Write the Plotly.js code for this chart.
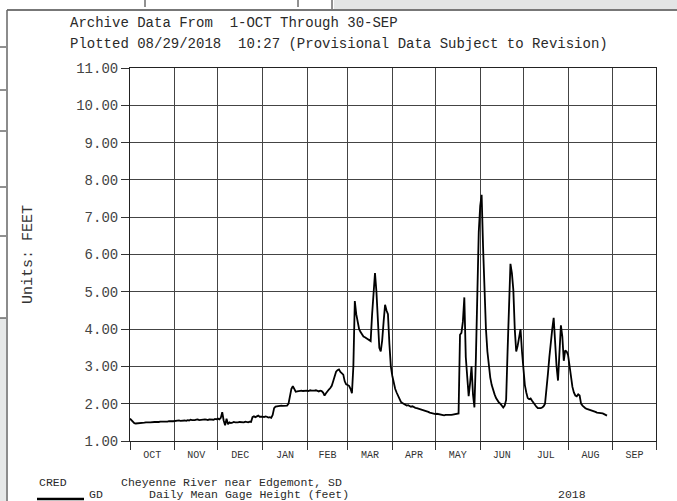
<!DOCTYPE html>
<html>
<head>
<meta charset="utf-8">
<script src="https://cdn.plot.ly/plotly-3.0.1.min.js"></script>
<style>html,body{margin:0;padding:0;background:#fff;}#chart{width:677px;height:501px;}</style>
</head>
<body>
<div id="chart"></div>
<script>
// ---- Data (daily mean gage height, feet), water year Oct 2017 - Sep 2018 ----
const monthStarts = ['2017-10-01','2017-11-01','2017-12-01','2018-01-01','2018-02-01','2018-03-01',
  '2018-04-01','2018-05-01','2018-06-01','2018-07-01','2018-08-01','2018-09-01','2018-10-01'];
const monthLabels = ['OCT','NOV','DEC','JAN','FEB','MAR','APR','MAY','JUN','JUL','AUG','SEP'];

const octVals = [1.60,1.55,1.50,1.48,1.47,1.47,1.48,1.48,1.49,1.48,1.49,1.50,1.49,1.50,1.50,1.51,
  1.50,1.51,1.51,1.50,1.51,1.52,1.51,1.52,1.52,1.51,1.52,1.53,1.52,1.53,1.53];
const novVals = [1.54,1.53,1.54,1.55,1.54,1.55,1.56,1.55,1.54,1.56,1.55,1.57,1.56,1.55,1.56,1.57,
  1.58,1.56,1.57,1.56,1.57,1.58,1.57,1.56,1.58,1.57,1.58,1.57,1.59,1.58];
const decVals = [1.60,1.58,1.62,1.77,1.55,1.42,1.60,1.45,1.50,1.48,1.49,1.51,1.50,1.49,1.50,1.51,
  1.50,1.49,1.50,1.52,1.51,1.50,1.52,1.51,1.64,1.66,1.64,1.65,1.68,1.65,1.66];
const janVals = [1.65,1.64,1.66,1.65,1.63,1.64,1.62,1.70,1.88,1.92,1.93,1.94,1.93,1.95,1.94,1.95,
  1.96,1.95,2.00,2.20,2.40,2.47,2.38,2.32,2.33,2.34,2.33,2.35,2.34,2.35,2.34];
const febVals = [2.35,2.34,2.36,2.35,2.34,2.35,2.36,2.35,2.33,2.35,2.34,2.30,2.22,2.28,2.35,2.38,
  2.42,2.48,2.60,2.75,2.86,2.90,2.92,2.85,2.80,2.78,2.60,2.52];
const marVals = [2.50,2.48,2.40,2.28,3.00,4.75,4.40,4.15,4.00,3.92,3.85,3.80,3.78,3.75,3.72,3.70,
  3.68,4.40,5.00,5.50,5.00,4.20,3.50,3.40,3.70,4.20,4.65,4.50,4.40,3.60,3.00];
const aprVals = [2.75,2.55,2.40,2.30,2.20,2.12,2.05,2.02,2.00,1.98,1.95,1.96,1.93,1.92,1.93,1.90,
  1.89,1.88,1.87,1.85,1.84,1.82,1.81,1.80,1.80,1.78,1.76,1.75,1.73,1.72];
const mayVals = [1.72,1.73,1.72,1.71,1.70,1.70,1.69,1.70,1.70,1.69,1.68,1.70,1.71,1.72,1.72,1.73,
  1.74,3.85,3.90,4.20,4.85,3.25,2.60,2.20,2.55,3.00,2.25,1.90,3.20,5.00,6.60];
const junVals = [7.30,7.60,6.20,4.80,4.00,3.40,3.00,2.70,2.50,2.35,2.25,2.15,2.08,2.03,2.00,1.95,
  1.90,1.95,2.10,3.40,4.80,5.75,5.50,5.05,4.00,3.40,3.55,3.80,4.00,3.40];
const julVals = [2.85,2.50,2.30,2.15,2.12,2.14,2.08,2.02,1.95,1.92,1.88,1.87,1.88,1.90,1.93,2.00,
  2.35,2.80,3.25,3.70,4.00,4.30,3.60,3.00,2.62,3.40,4.10,3.80,3.15,3.43,3.40];
const augVals = [3.30,3.00,2.70,2.45,2.30,2.22,2.20,2.25,2.22,2.00,1.95,1.90,1.88,1.86,1.85,1.83,
  1.82,1.80,1.79,1.78,1.76,1.76,1.75,1.75,1.74,1.72,1.70,1.68];

const yTicks = [1,2,3,4,5,6,7,8,9,10,11];

// ---- build series from the monthly arrays ----
const monthly = [octVals,novVals,decVals,janVals,febVals,marVals,aprVals,mayVals,junVals,julVals,augVals];
const xs = [], ys = [];
const DAY = 86400000;
function toISO(ms){ return new Date(ms).toISOString().slice(0,10); }
monthly.forEach((arr, m) => {
  const start = Date.parse(monthStarts[m] + 'T00:00:00Z');
  arr.forEach((v, i) => { xs.push(toISO(start + i*DAY)); ys.push(v); });
});
const mids = monthLabels.map((_, i) => {
  const a = Date.parse(monthStarts[i] + 'T00:00:00Z'), b = Date.parse(monthStarts[i+1] + 'T00:00:00Z');
  return new Date((a+b)/2).toISOString().slice(0,19).replace('T',' ');
});

// ---- pixel helpers for annotation / decoration placement ----
const L = 130, R = 656, T = 68, B = 441;
const PX = p => (p - L) / (R - L);
const PY = p => (B - p) / (B - T);
const FONT = '"Liberation Mono", "DejaVu Sans Mono", monospace';

function txt(text, x, y, size, extra){
  return Object.assign({text, x: PX(x), y: PY(y), xref:'paper', yref:'paper', xanchor:'left', yanchor:'middle',
    showarrow:false, font:{family:FONT, size:size, color:'#2a2a2a'}}, extra||{});
}
function hline(x0,x1,y,color,w){ return {type:'line', xref:'paper', yref:'paper', x0:PX(x0), x1:PX(x1), y0:PY(y), y1:PY(y), line:{color, width:w}}; }
function vline(x,y0,y1,color,w){ return {type:'line', xref:'paper', yref:'paper', x0:PX(x), x1:PX(x), y0:PY(y0), y1:PY(y1), line:{color, width:w}}; }
function rect(x0,x1,y0,y1,fill){ return {type:'rect', xref:'paper', yref:'paper', x0:PX(x0), x1:PX(x1), y0:PY(y0), y1:PY(y1), fillcolor:fill, line:{width:0}, layer:'below'}; }

const traces = [
  {x: xs, y: ys, type:'scatter', mode:'lines', line:{color:'#000', width:1.8}, hoverinfo:'skip', showlegend:false},
  {x: [], y: [], type:'scatter', mode:'lines', xaxis:'x2', yaxis:'y', showlegend:false, hoverinfo:'skip'}
];

const layout = {
  width: 677, height: 501,
  margin: {l: L, r: 677 - R, t: T, b: 501 - B, pad: 0},
  paper_bgcolor: '#fff', plot_bgcolor: '#fff',
  showlegend: false,
  xaxis: {
    type:'date', range:[monthStarts[0], monthStarts[12]],
    tickmode:'array', tickvals: mids, ticktext: monthLabels,
    ticks:'', showgrid:false, zeroline:false,
    showline:true, linecolor:'#222', linewidth:1, mirror:true,
    tickfont:{family:FONT, size:10, color:'#333'}, ticklabelstandoff: 4
  },
  xaxis2: {
    type:'date', overlaying:'x', matches:'x', anchor:'y', side:'bottom',
    range:[monthStarts[0], monthStarts[12]],
    tickmode:'array', tickvals: monthStarts, showticklabels:false,
    ticks:'outside', ticklen:8, tickcolor:'#333', tickwidth:1,
    showgrid:true, gridcolor:'#444', gridwidth:1, zeroline:false, showline:false
  },
  yaxis: {
    range:[1, 11], tickmode:'array', tickvals: yTicks, ticktext: yTicks.map(v => v.toFixed(2)),
    ticks:'outside', ticklen:8, tickcolor:'#333', tickwidth:1,
    showgrid:true, gridcolor:'#444', gridwidth:1, zeroline:false,
    showline:true, linecolor:'#222', linewidth:1, mirror:true,
    tickfont:{family:FONT, size:14, color:'#444'}
  },
  annotations: [
    txt('Archive Data From\u00a0\u00a01-OCT Through 30-SEP', 68, 23, 14),
    txt('Plotted 08/29/2018\u00a0\u00a010:27 (Provisional Data Subject to Revision)', 68, 44, 14),
    txt('Units: FEET', 28, 255, 15, {textangle:-90, xanchor:'center', font:{family:FONT, size:15, color:'#333'}}),
    txt('CRED', 37, 482, 11.5),
    txt('Cheyenne River near Edgemont, SD', 119, 482, 11.5),
    txt('GD', 87, 494, 11.5),
    txt('Daily Mean Gage Height (feet)', 147, 494, 11.5),
    txt('2018', 556, 494, 11.5)
  ],
  shapes: [
    rect(334, 677, 0, 9, '#e3e5e5'),
    rect(0, 6, 318, 501, '#e6e8e8'),
    vline(145, 0, 7, '#222', 1), vline(298, 0, 7, '#222', 1), vline(332, 0, 9, '#222', 1),
    hline(7, 677, 10, '#777', 2),
    vline(7, 10, 501, '#666', 1.5),
    hline(0, 6, 47, '#222', 1), hline(0, 6, 90, '#222', 1), hline(0, 6, 131, '#222', 1),
    hline(0, 6, 187, '#222', 1), hline(0, 6, 236, '#222', 1), hline(0, 6, 318, '#222', 1),
    hline(37, 84, 499, '#000', 2.5)
  ]
};

Plotly.newPlot('chart', traces, layout, {staticPlot:true, displayModeBar:false});
</script>
</body>
</html>
